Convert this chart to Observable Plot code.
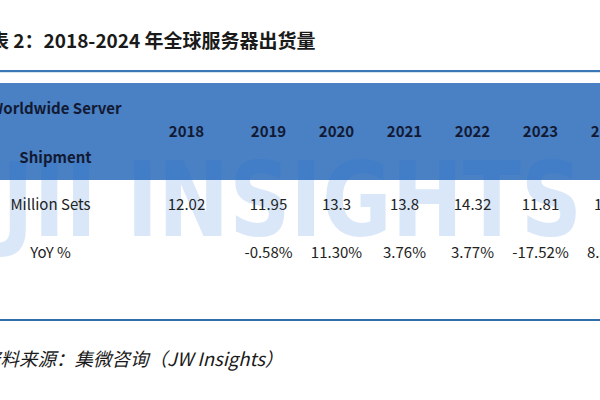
<!DOCTYPE html>
<html><head><meta charset="utf-8">
<script src="https://cdn.jsdelivr.net/npm/d3@7"></script>
<script src="https://cdn.jsdelivr.net/npm/@observablehq/plot@0.6"></script>
<style>
html,body{margin:0;padding:0;background:#fff;width:600px;height:400px;overflow:hidden;}
#wrap{position:relative;width:600px;height:400px;overflow:hidden;}
#title{position:absolute;left:-10px;top:28px;font:bold 19px "Noto Sans CJK SC",sans-serif;color:#1a1a1a;white-space:nowrap;line-height:24px;}
#chart{position:absolute;left:0;top:60px;}
#caption{position:absolute;left:-18px;top:346px;font:italic 18.5px "Noto Sans CJK SC",sans-serif;color:#1a1a1a;white-space:nowrap;line-height:24px;}
</style></head>
<body><div id="wrap">
<div id="title">表 2：2018-2024 年全球服务器出货量</div>
<div id="chart"></div>
<div id="caption">资料来源：集微咨询（JW Insights）</div>
</div>
<script>
// ---- data ----
const years = [2018, 2019, 2020, 2021, 2022, 2023, 2024];
const shipments = [12.02, 11.95, 13.3, 13.8, 14.32, 11.81, 12.8];
const yoy = [null, -0.58, 11.30, 3.76, 3.77, -17.52, 8.38];
const rowLabels = ["Million Sets", "YoY %"];
const headerLabel = ["Worldwide Server", "Shipment"];
const watermark = "JII INSIGHTS";

// ---- table cells (row 0 = header years) ----
const cells = years.flatMap((year, i) => [
  {year, row: 0, text: String(year)},
  {year, row: 1, text: String(shipments[i])},
  {year, row: 2, text: yoy[i] == null ? "" : yoy[i].toFixed(2) + "%"}
]);

const plot = Plot.plot({
  width: 600,
  height: 280,
  margin: 0,
  x: {type: "linear", domain: [years[0], years[1], years[years.length - 1]], range: [186, 268, 608], axis: null},
  y: {type: "linear", domain: [0, 1, 2], range: [72, 145, 193], axis: null},
  style: {fontFamily: '"Noto Sans CJK SC", sans-serif', fontSize: "15px", background: "transparent", overflow: "hidden"},
  marks: [
    Plot.text(cells.filter(d => d.row === 0), {x: "year", y: "row", text: "text", fontWeight: "bold", fill: "#121a33", fontSize: 15}),
    Plot.text(cells.filter(d => d.row > 0), {x: "year", y: "row", text: "text", fill: "#222", fontSize: 15}),
    Plot.text([headerLabel.join("\n")], {frameAnchor: "left", dx: 55, dy: -10, y: () => 0, text: d => d, textAnchor: "middle", lineHeight: 3.33, fontWeight: "bold", fill: "#121a33", fontSize: 15}),
    Plot.text(rowLabels, {frameAnchor: "left", dx: 50, y: (d, i) => i + 1, text: d => d, textAnchor: "middle", fill: "#222", fontSize: 15})
  ]
});

// decorations behind the table content
const svg = d3.select(plot);
const deco = svg.insert("g", ":first-child");
deco.append("rect").attr("x", 0).attr("y", 10).attr("width", 600).attr("height", 2).attr("fill", "#3a77b6");
deco.append("rect").attr("x", 0).attr("y", 12).attr("width", 600).attr("height", 1).attr("fill", "#d3e3f2");
deco.append("rect").attr("x", 0).attr("y", 23).attr("width", 600).attr("height", 97).attr("fill", "#4a80c4");
deco.append("text").text(watermark)
  .attr("x", 2).attr("y", 176)
  .attr("text-anchor", "start")
  .attr("textLength", 580).attr("lengthAdjust", "spacingAndGlyphs")
  .attr("font-family", '"DejaVu Sans", sans-serif').attr("font-weight", "bold").attr("font-size", 103)
  .attr("fill", "rgb(30,110,220)").attr("fill-opacity", 0.17);
deco.append("rect").attr("x", 0).attr("y", 259).attr("width", 600).attr("height", 2).attr("fill", "#2f6ea8");

document.getElementById("chart").appendChild(plot);
</script>
</body></html>
